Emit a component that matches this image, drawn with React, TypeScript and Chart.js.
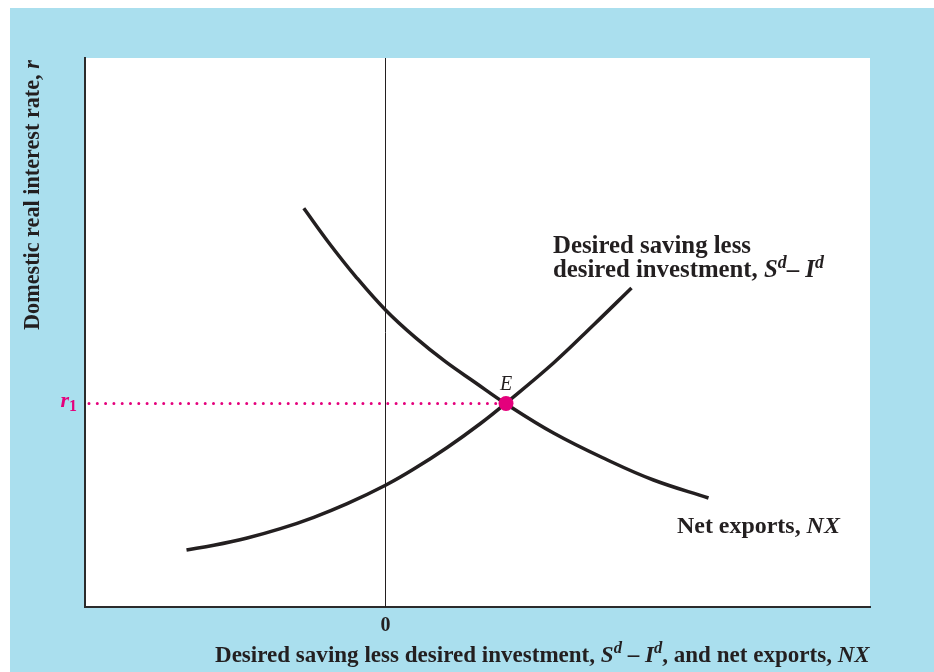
import React, { useEffect, useRef } from "react";
import { Chart, registerables } from "chart.js";

Chart.register(...registerables);

// ---- data (axis units: arbitrary, zero of x at the vertical line) ----
const X_MIN = -3.005;
const X_MAX = 4.845;
const Y_MIN = 0;
const Y_MAX = 5.49;

const savingX = [-1.99, -1.717, -1.383, -1.05, -0.717, -0.383, 0.0, 0.283, 0.617, 0.95, 1.2, 1.68, 2.08, 2.46];
const savingY = [0.57, 0.617, 0.69, 0.783, 0.897, 1.033, 1.217, 1.379, 1.595, 1.835, 2.035, 2.44, 2.82, 3.19];

const nxX = [-0.817, -0.567, -0.3, 0.0, 0.3, 0.6, 0.9, 1.2, 1.68, 2.22, 2.68, 3.23];
const nxY = [3.987, 3.643, 3.307, 2.97, 2.693, 2.453, 2.243, 2.035, 1.74, 1.47, 1.27, 1.09];

const eqX = 1.205;
const r1 = 2.035;

const xTicks = [0];
const xTickLabels = ["0"];

// ---- styles ----
const FAMILY = "'Liberation Serif', 'Times New Roman', serif";
const INK = "#231f20";
const MAGENTA = "#e4007c";
const BLUE = "#aadfee";

type Seg = { t: string; i?: boolean; sup?: boolean; sub?: boolean };

const savingLabel1: Seg[] = [{ t: "Desired saving less" }];
const savingLabel2: Seg[] = [
  { t: "desired investment, " },
  { t: "S", i: true },
  { t: "d", i: true, sup: true },
  { t: "– " },
  { t: "I", i: true },
  { t: "d", i: true, sup: true },
];
const nxLabel: Seg[] = [{ t: "Net exports, " }, { t: "NX", i: true }];
const xTitle: Seg[] = [
  { t: "Desired saving less desired investment, " },
  { t: "S", i: true },
  { t: "d", i: true, sup: true },
  { t: " – " },
  { t: "I", i: true },
  { t: "d", i: true, sup: true },
  { t: ", and net exports, " },
  { t: "NX", i: true },
];
const yTitle: Seg[] = [{ t: "Domestic real interest rate, " }, { t: "r", i: true }];
const r1Label: Seg[] = [{ t: "r", i: true }, { t: "1", sub: true }];
const eLabel: Seg[] = [{ t: "E", i: true }];

function fontStr(size: number, bold: boolean, italic?: boolean) {
  return `${italic ? "italic " : ""}${bold ? "bold " : ""}${size}px ${FAMILY}`;
}
function segSize(s: Seg, size: number) {
  return s.sup || s.sub ? size * 0.72 : size;
}
function measureRich(ctx: CanvasRenderingContext2D, segs: Seg[], size: number, bold: boolean) {
  let w = 0;
  for (const s of segs) {
    ctx.font = fontStr(segSize(s, size), bold, s.i);
    w += ctx.measureText(s.t).width;
  }
  return w;
}
function fitSize(ctx: CanvasRenderingContext2D, segs: Seg[], bold: boolean, target: number) {
  return (100 * target) / measureRich(ctx, segs, 100, bold);
}
function drawRich(
  ctx: CanvasRenderingContext2D,
  segs: Seg[],
  x: number,
  y: number,
  size: number,
  bold: boolean,
  color: string,
  align: "left" | "center" | "right"
) {
  const w = measureRich(ctx, segs, size, bold);
  let cx = align === "center" ? x - w / 2 : align === "right" ? x - w : x;
  ctx.textAlign = "left";
  ctx.textBaseline = "alphabetic";
  ctx.fillStyle = color;
  for (const s of segs) {
    const fs = segSize(s, size);
    ctx.font = fontStr(fs, bold, s.i);
    const dy = s.sup ? -size * 0.38 : s.sub ? size * 0.22 : 0;
    ctx.fillText(s.t, cx, y + dy);
    cx += ctx.measureText(s.t).width;
  }
}

const backgroundPlugin = {
  id: "bg",
  beforeDraw(chart: any) {
    const { ctx, chartArea: a } = chart;
    ctx.save();
    ctx.fillStyle = BLUE;
    ctx.fillRect(0, 0, chart.width, chart.height);
    ctx.fillStyle = "#ffffff";
    ctx.fillRect(a.left, a.top, a.right - a.left, a.bottom - a.top);
    ctx.restore();
  },
};

// offset of the canvas within the page
const OX = 10;
const OY = 8;

const textPlugin = {
  id: "texts",
  afterDraw(chart: any) {
    const { ctx, scales } = chart;
    ctx.save();
    // curve labels
    const s1 = fitSize(ctx, savingLabel1, true, 198);
    drawRich(ctx, savingLabel1, 553 - OX, 253 - OY, s1, true, INK, "left");
    drawRich(ctx, savingLabel2, 553 - OX, 277 - OY, s1, true, INK, "left");
    const sNx = fitSize(ctx, nxLabel, true, 163);
    drawRich(ctx, nxLabel, 677 - OX, 533 - OY, sNx, true, INK, "left");
    // x title
    const sx = fitSize(ctx, xTitle, true, 655);
    drawRich(ctx, xTitle, 215 - OX, 662 - OY, sx, true, INK, "left");
    // y title (rotated)
    const sy = fitSize(ctx, yTitle, true, 270);
    ctx.save();
    ctx.translate(39 - OX, 330 - OY);
    ctx.rotate(-Math.PI / 2);
    drawRich(ctx, yTitle, 0, 0, sy, true, INK, "left");
    ctx.restore();
    // r1 label
    const ry = scales.y.getPixelForValue(r1);
    drawRich(ctx, r1Label, scales.x.left - 8, ry + 3, 22, true, MAGENTA, "right");
    // E label
    const ex = scales.x.getPixelForValue(eqX);
    drawRich(ctx, eLabel, ex, ry - 14, 20, false, INK, "center");
    ctx.restore();
  },
};

export default function App() {
  const ref = useRef<HTMLCanvasElement | null>(null);

  useEffect(() => {
    const canvas = ref.current;
    if (!canvas) return;
    const chart = new Chart(canvas, {
      type: "scatter",
      data: {
        datasets: [
          {
            label: "E",
            data: [{ x: eqX, y: r1 }],
            pointRadius: 7.5,
            pointHoverRadius: 7.5,
            backgroundColor: MAGENTA,
            borderWidth: 0,
            showLine: false,
          },
          {
            label: "Sd - Id",
            data: savingX.map((x, i) => ({ x, y: savingY[i] })),
            showLine: true,
            pointRadius: 0,
            borderColor: INK,
            borderWidth: 3.5,
            tension: 0.4,
          },
          {
            label: "NX",
            data: nxX.map((x, i) => ({ x, y: nxY[i] })),
            showLine: true,
            pointRadius: 0,
            borderColor: INK,
            borderWidth: 3.5,
            tension: 0.4,
          },
          {
            label: "r1",
            data: [
              { x: X_MIN + 0.04, y: r1 },
              { x: eqX, y: r1 },
            ],
            showLine: true,
            pointRadius: 0,
            borderColor: MAGENTA,
            borderWidth: 3,
            borderDash: [0, 8.3],
            borderCapStyle: "round",
          },
          {
            label: "zero",
            data: [
              { x: 0, y: Y_MIN },
              { x: 0, y: Y_MAX },
            ],
            showLine: true,
            pointRadius: 0,
            borderColor: INK,
            borderWidth: 1,
          },
        ],
      } as any,
      options: {
        animation: false,
        responsive: false,
        events: [],
        layout: { padding: { top: 50, right: 64, left: 0, bottom: 0 } },
        plugins: {
          legend: { display: false },
          tooltip: { enabled: false },
        },
        scales: {
          x: {
            type: "linear",
            min: X_MIN,
            max: X_MAX,
            grid: { display: false, drawTicks: false },
            border: { display: true, color: "#2b2b2b", width: 2 },
            afterBuildTicks: (s: any) => {
              s.ticks = xTicks.map((v) => ({ value: v }));
            },
            afterFit: (s: any) => {
              s.height = 65;
            },
            ticks: {
              autoSkip: false,
              maxRotation: 0,
              padding: 7,
              color: INK,
              font: { family: FAMILY, size: 20, weight: "bold" },
              callback: (v: any) => {
                const idx = xTicks.indexOf(Number(v));
                return idx >= 0 ? xTickLabels[idx] : "";
              },
            },
          },
          y: {
            type: "linear",
            min: Y_MIN,
            max: Y_MAX,
            grid: { display: false, drawTicks: false },
            border: { display: true, color: "#2b2b2b", width: 2 },
            ticks: { display: false },
            afterFit: (s: any) => {
              s.width = 75;
            },
          },
        },
      } as any,
      plugins: [backgroundPlugin, textPlugin],
    });
    return () => chart.destroy();
  }, []);

  return (
    <div style={{ position: "fixed", left: OX, top: OY, width: 924, height: 664 }}>
      <canvas ref={ref} width={924} height={664} style={{ display: "block" }} />
    </div>
  );
}
